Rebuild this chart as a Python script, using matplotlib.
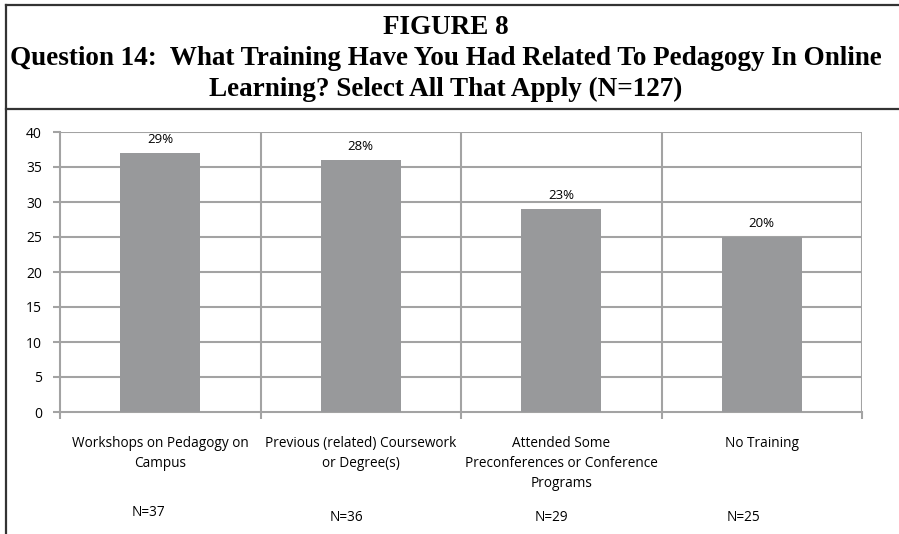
import matplotlib.pyplot as plt
from matplotlib.lines import Line2D

categories = ["Workshops on Pedagogy on\nCampus",
              "Previous (related) Coursework\nor Degree(s)",
              "Attended Some\nPreconferences or Conference\nPrograms",
              "No Training"]
counts = [37, 36, 29, 25]
percents = ["29%", "28%", "23%", "20%"]
n_labels = ["N=37", "N=36", "N=29", "N=25"]

fig = plt.figure(figsize=(8.99, 5.34), dpi=100)
W, H = 899, 534

# box lines around the figure/title
grey = "#333333"
fig.add_artist(Line2D([6 / W, 6 / W], [0, 1 - 5 / H], color=grey, lw=1.6, transform=fig.transFigure))
fig.add_artist(Line2D([6 / W, 1], [1 - 5 / H, 1 - 5 / H], color=grey, lw=1.6, transform=fig.transFigure))
fig.add_artist(Line2D([6 / W, 1], [1 - 109 / H, 1 - 109 / H], color=grey, lw=1.6, transform=fig.transFigure))

title_lines = ["FIGURE 8",
               "Question 14:  What Training Have You Had Related To Pedagogy In Online",
               "Learning? Select All That Apply (N=127)"]
for i, t in enumerate(title_lines):
    fig.text(0.5 - 4 / W, 1 - (34 + 31 * i) / H, t, ha="center", va="baseline",
             family="Liberation Serif", weight="bold", fontsize=19.5)

ax = fig.add_axes([60 / W, 1 - 412 / H, 802 / W, 280 / H])
x = list(range(len(counts)))
ax.bar(x, counts, width=0.4, color="#98999b", zorder=3)
ax.set_xlim(-0.5, len(counts) - 0.5)
ax.set_ylim(0, 40)
ax.set_yticks(range(0, 41, 5))

gc = "#a3a3a3"
for y in range(5, 41, 5):
    ax.axhline(y, color=gc, lw=1.5, zorder=1)
for b in [0.5, 1.5, 2.5, 3.5]:
    ax.axvline(b, color=gc, lw=1.5, zorder=1)
for s in ["top", "right"]:
    ax.spines[s].set_visible(False)
for s in ["left", "bottom"]:
    ax.spines[s].set_color(gc)
    ax.spines[s].set_linewidth(1.5)

ax.set_xticks([-0.5, 0.5, 1.5, 2.5, 3.5])
ax.set_xticklabels([])
ax.tick_params(axis="x", length=5, color=gc, width=1.5)
ax.tick_params(axis="y", length=5, color=gc, width=1.5, labelsize=10, pad=8)
for lbl in ax.get_yticklabels():
    lbl.set_family("Open Sans")

for xi, c, p in zip(x, counts, percents):
    ax.annotate(p, (xi, c), xytext=(0, 5), textcoords="offset points",
                ha="center", va="bottom", fontsize=9.5, family="Open Sans")

for xi, cat in zip(x, categories):
    ax.annotate(cat, (xi, 0), xytext=(0, -17), textcoords="offset points",
                ha="center", va="top", fontsize=9.8, family="Open Sans", linespacing=1.45)

n_off = [-0.06, -0.07, -0.05, -0.09]
n_y = [-72, -76, -76, -76]
for xi, n, dx, dy in zip(x, n_labels, n_off, n_y):
    ax.annotate(n, (xi + dx, 0), xytext=(0, dy), textcoords="offset points",
                ha="center", va="center", fontsize=9.8, family="Open Sans")

fig.savefig("out.png", dpi=100)
